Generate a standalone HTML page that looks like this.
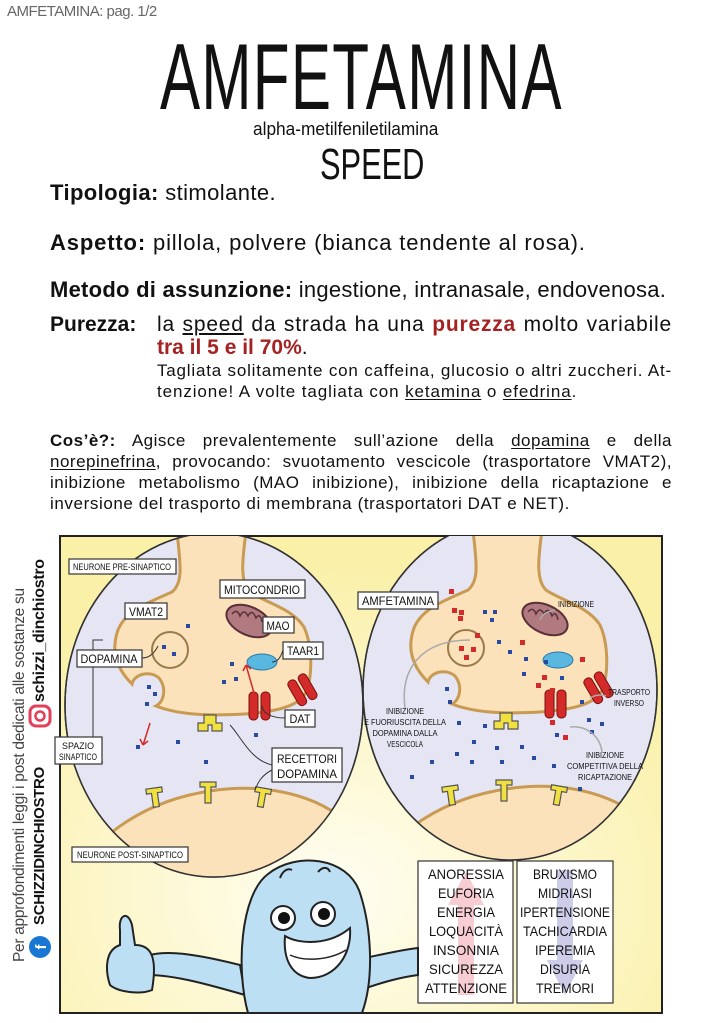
<!DOCTYPE html>
<html><head><meta charset="utf-8"><style>
html,body{margin:0;padding:0;background:#fff;}
body{width:721px;height:1023px;position:relative;overflow:hidden;font-family:"Liberation Sans",sans-serif;color:#111;}
.a{position:absolute;white-space:nowrap;}
.j{position:absolute;white-space:nowrap;text-align:justify;text-align-last:justify;}
.lbl{font-weight:bold;}
u{text-decoration:underline;text-underline-offset:2px;}
.red{color:#a52222;font-weight:bold;}
</style></head><body>
<div class="a" style="left:7px;top:3px;font-size:15px;color:#666;letter-spacing:-0.5px;">AMFETAMINA: pag. 1/2</div>
<div class="a" style="left:160px;top:30px;font-size:94px;line-height:94px;"><span style="display:inline-block;transform:scaleX(0.64);transform-origin:0 0;letter-spacing:2px;">AMFETAMINA</span></div>
<div class="a" style="left:253px;top:119px;font-size:18px;"><span style="display:inline-block;transform:scaleX(0.96);transform-origin:0 0;">alpha-metilfeniletilamina</span></div>
<div class="a" style="left:320px;top:140px;font-size:44px;"><span style="display:inline-block;transform:scaleX(0.7);transform-origin:0 0;">SPEED</span></div>

<div class="a" style="left:50px;top:180px;font-size:22px;letter-spacing:0.4px;"><span class="lbl">Tipologia:</span> stimolante.</div>
<div class="a" style="left:50px;top:230px;font-size:22px;letter-spacing:0.85px;"><span class="lbl">Aspetto:</span> pillola, polvere (bianca tendente al rosa).</div>
<div class="a" style="left:50px;top:277px;font-size:22px;letter-spacing:0.25px;"><span class="lbl">Metodo di assunzione:</span> ingestione, intranasale, endovenosa.</div>
<div class="a" style="left:50px;top:313px;font-size:21px;"><span class="lbl">Purezza:</span></div>
<div class="j" style="left:157px;top:313px;width:515px;font-size:21px;letter-spacing:0.8px;">la <u>speed</u> da strada ha una <span class="red">purezza</span> molto variabile</div>
<div class="a" style="left:157px;top:336px;font-size:21px;"><span class="red">tra il 5 e il 70%</span>.</div>
<div class="j" style="left:157px;top:361px;width:515px;font-size:17px;letter-spacing:0.8px;">Tagliata solitamente con caffeina, glucosio o altri zuccheri. At-</div>
<div class="a" style="left:157px;top:382px;font-size:17px;letter-spacing:0.9px;">tenzione! A volte tagliata con <u>ketamina</u> o <u>efedrina</u>.</div>

<div class="j" style="left:50px;top:431px;width:622px;font-size:17px;letter-spacing:0.5px;"><b>Cos’è?:</b> Agisce prevalentemente sull’azione della <u>dopamina</u> e della</div>
<div class="j" style="left:50px;top:452px;width:622px;font-size:17px;letter-spacing:0.5px;"><u>norepinefrina</u>, provocando: svuotamento vescicole (trasportatore VMAT2),</div>
<div class="j" style="left:50px;top:473px;width:622px;font-size:17px;letter-spacing:0.5px;">inibizione metabolismo (MAO inibizione), inibizione della ricaptazione e</div>
<div class="a" style="left:50px;top:494px;font-size:17px;letter-spacing:0.6px;">inversione del trasporto di membrana (trasportatori DAT e NET).</div>

<!-- side vertical text -->
<div class="a" style="left:11px;top:962px;transform:rotate(-90deg);transform-origin:0 0;font-size:15.5px;color:#444;letter-spacing:-0.3px;">Per approfondimenti leggi i post dedicati alle sostanze su</div>
<div class="a" style="left:31px;top:925px;transform:rotate(-90deg);transform-origin:0 0;font-size:15px;font-weight:bold;letter-spacing:-0.3px;">SCHIZZIDINCHIOSTRO</div>
<div class="a" style="left:31px;top:702px;transform:rotate(-90deg);transform-origin:0 0;font-size:16px;font-weight:bold;letter-spacing:-0.3px;">schizzi_dinchiostro</div>

<svg class="a" style="left:0;top:0" width="721" height="1023" viewBox="0 0 721 1023" font-family="Liberation Sans, sans-serif">
<defs>
<radialGradient id="bg" cx="0.45" cy="0.75" r="0.7"><stop offset="0" stop-color="#fffef2"/><stop offset="1" stop-color="#faf0a8"/></radialGradient>
<clipPath id="pc"><rect x="60" y="536" width="602" height="477"/></clipPath>
<clipPath id="cl"><ellipse cx="214" cy="705" rx="149" ry="172"/></clipPath>
<clipPath id="cr"><ellipse cx="510" cy="690" rx="147" ry="170"/></clipPath>
<g id="bulb">
<path d="M473,530 C476,560 480,580 468,590 C446,600 422,608 414,628 C406,650 414,668 428,682 C430,672 446,668 455,676 C463,686 460,700 452,704 C475,713 505,714 540,712 C572,710 596,704 602,690 C610,670 607,640 600,625 C588,606 560,600 546,590 C536,580 538,560 542,530 Z" fill="#fbe2bb" stroke="#c99a52" stroke-width="3"/>
<path d="M370,880 C410,780 600,750 660,840 L660,900 L370,900 Z" fill="#fbe2bb" stroke="#c99a52" stroke-width="3"/>
<circle cx="466" cy="648" r="18" fill="#fbe2bb" stroke="#9a7a4a" stroke-width="2"/>
<ellipse cx="545" cy="619" rx="24" ry="14" transform="rotate(25 545 619)" fill="#b07a80" stroke="#5a3038" stroke-width="2"/>
<path d="M528,612 q5,-6 8,2 q4,-8 8,0 q4,-8 8,2 q4,-6 6,4" fill="none" stroke="#5a3038" stroke-width="1.5"/>
<ellipse cx="558" cy="660" rx="15" ry="8" fill="#5ab8e0" stroke="#2a78a8" stroke-width="1"/>
<g fill="#f0e040" stroke="#555" stroke-width="1.2">
<path d="M500,713 h12 v8 h6 v8 h-10 v-6 h-4 v6 h-10 v-8 h6 z"/>
<path d="M443,786 h16 v5 h-5 v14 h-6 v-14 h-5 z" transform="rotate(-8 451 795)"/>
<path d="M496,780 h16 v5 h-5 v16 h-6 v-16 h-5 z"/>
<path d="M550,786 h16 v5 h-5 v14 h-6 v-14 h-5 z" transform="rotate(10 558 795)"/>
</g>
<g fill="#d42a2a" stroke="#7a1010" stroke-width="1">
<rect x="545" y="690" width="9" height="28" rx="4"/><rect x="557" y="690" width="9" height="28" rx="4"/>
<rect x="588" y="674" width="9" height="28" rx="4" transform="rotate(-30 598 688)"/><rect x="600" y="674" width="9" height="28" rx="4" transform="rotate(-30 598 688)"/>
</g>
</g>
</defs>
<rect x="60" y="536" width="602" height="477" fill="url(#bg)" stroke="#222" stroke-width="2"/>
<g clip-path="url(#pc)">
<ellipse cx="214" cy="705" rx="149" ry="172" fill="#e5e5f3" stroke="#333" stroke-width="1.5"/>
<ellipse cx="510" cy="690" rx="147" ry="170" fill="#e5e5f3" stroke="#333" stroke-width="1.5"/>
<g clip-path="url(#cr)"><use href="#bulb"/></g>
<g clip-path="url(#cl)"><use href="#bulb" transform="translate(-296,2)"/></g>
<ellipse cx="214" cy="705" rx="149" ry="172" fill="none" stroke="#333" stroke-width="1.5"/>
<ellipse cx="510" cy="690" rx="147" ry="170" fill="none" stroke="#333" stroke-width="1.5"/>
</g>
<!-- dots -->
<g fill="#2a4aa0">
<rect x="186" y="624" width="4" height="4"/><rect x="162" y="645" width="4" height="4"/><rect x="172" y="652" width="4" height="4"/><rect x="230" y="662" width="4" height="4"/><rect x="222" y="680" width="4" height="4"/><rect x="234" y="677" width="4" height="4"/><rect x="147" y="685" width="4" height="4"/><rect x="153" y="692" width="4" height="4"/><rect x="145" y="702" width="4" height="4"/><rect x="254" y="733" width="4" height="4"/><rect x="176" y="740" width="4" height="4"/><rect x="136" y="745" width="4" height="4"/><rect x="204" y="760" width="4" height="4"/>
<rect x="483" y="610" width="4" height="4"/><rect x="493" y="610" width="4" height="4"/><rect x="490" y="618" width="4" height="4"/><rect x="497" y="640" width="4" height="4"/><rect x="508" y="650" width="4" height="4"/><rect x="524" y="657" width="4" height="4"/><rect x="544" y="660" width="4" height="4"/><rect x="522" y="672" width="4" height="4"/><rect x="560" y="676" width="4" height="4"/><rect x="445" y="687" width="4" height="4"/><rect x="448" y="700" width="4" height="4"/><rect x="457" y="721" width="4" height="4"/><rect x="483" y="724" width="4" height="4"/><rect x="472" y="740" width="4" height="4"/><rect x="495" y="746" width="4" height="4"/><rect x="520" y="745" width="4" height="4"/><rect x="455" y="752" width="4" height="4"/><rect x="430" y="760" width="4" height="4"/><rect x="470" y="760" width="4" height="4"/><rect x="500" y="760" width="4" height="4"/><rect x="532" y="756" width="4" height="4"/><rect x="552" y="764" width="4" height="4"/><rect x="555" y="733" width="4" height="4"/><rect x="587" y="718" width="4" height="4"/><rect x="600" y="722" width="4" height="4"/><rect x="590" y="730" width="4" height="4"/><rect x="580" y="700" width="4" height="4"/><rect x="410" y="775" width="4" height="4"/><rect x="578" y="787" width="4" height="4"/>
</g>
<g fill="#d42a2a">
<rect x="449" y="589" width="5" height="5"/><rect x="452" y="608" width="5" height="5"/><rect x="459" y="610" width="5" height="5"/><rect x="458" y="616" width="5" height="5"/><rect x="475" y="633" width="5" height="5"/><rect x="459" y="646" width="5" height="5"/><rect x="471" y="647" width="5" height="5"/><rect x="464" y="655" width="5" height="5"/><rect x="520" y="640" width="5" height="5"/><rect x="580" y="657" width="5" height="5"/><rect x="542" y="675" width="5" height="5"/><rect x="536" y="683" width="5" height="5"/><rect x="550" y="688" width="5" height="5"/><rect x="550" y="720" width="5" height="5"/><rect x="563" y="735" width="5" height="5"/>
</g>
<path d="M150,723 q-3,10 -7,22 M143,745 l-3,-6 M143,745 l5,-4" stroke="#d42a2a" stroke-width="1.5" fill="none"/>
<path d="M256,700 l-10,-35 M246,665 l-3,6 M246,665 l5,4" stroke="#d42a2a" stroke-width="1.5" fill="none"/>
<!-- connectors -->
<g fill="none" stroke="#333" stroke-width="1">
<path d="M142,658 C150,658 155,652 158,646"/><path d="M272,765 C250,760 240,735 230,725"/><path d="M272,770 C262,775 258,782 255,790"/><path d="M285,718 C270,718 262,712 262,706"/><path d="M283,650 C280,660 276,662 272,662"/>
<path d="M103,640 h-10 v122 h10"/>
</g>
<g fill="none" stroke="#aaa" stroke-width="1.5">
<path d="M405,708 C400,670 420,640 470,640"/><path d="M602,752 C600,735 585,725 570,727"/><path d="M555,610 C545,612 542,615 540,620"/><path d="M606,696 C600,694 595,695 590,698"/>
</g>
<!-- label boxes -->
<g fill="#fff" stroke="#333" stroke-width="1.2">
<rect x="69" y="559" width="107" height="15"/><rect x="220" y="580" width="85" height="18"/><rect x="125" y="603" width="42" height="16"/><rect x="263" y="617" width="31" height="16"/><rect x="283" y="642" width="40" height="17"/><rect x="77" y="650" width="65" height="17"/><rect x="285" y="710" width="30" height="17"/><rect x="55" y="737" width="47" height="27"/><rect x="272" y="748" width="70" height="34"/><rect x="72" y="847" width="116" height="15"/><rect x="358" y="592" width="80" height="17"/>
<rect x="418" y="861" width="95" height="142"/><rect x="517" y="861" width="96" height="142"/>
</g>
<g font-size="9" fill="#111" text-anchor="middle">
<text x="122" y="570" textLength="98" lengthAdjust="spacingAndGlyphs">NEURONE PRE-SINAPTICO</text>
<text x="130" y="858" textLength="106" lengthAdjust="spacingAndGlyphs">NEURONE POST-SINAPTICO</text>
<text x="78" y="749" textLength="32" lengthAdjust="spacingAndGlyphs">SPAZIO</text>
<text x="78" y="760" textLength="38" lengthAdjust="spacingAndGlyphs">SINAPTICO</text>
<text x="576" y="607" font-size="8" textLength="36" lengthAdjust="spacingAndGlyphs">INIBIZIONE</text>
<text x="629" y="695" font-size="8" textLength="42" lengthAdjust="spacingAndGlyphs">TRASPORTO</text>
<text x="629" y="706" font-size="8" textLength="30" lengthAdjust="spacingAndGlyphs">INVERSO</text>
<g font-size="8"><text x="405" y="714" textLength="38" lengthAdjust="spacingAndGlyphs">INIBIZIONE</text>
<text x="405" y="725" textLength="82" lengthAdjust="spacingAndGlyphs">E FUORIUSCITA DELLA</text>
<text x="405" y="736" textLength="65" lengthAdjust="spacingAndGlyphs">DOPAMINA DALLA</text>
<text x="405" y="747" textLength="36" lengthAdjust="spacingAndGlyphs">VESCICOLA</text>
<text x="605" y="758" textLength="38" lengthAdjust="spacingAndGlyphs">INIBIZIONE</text>
<text x="605" y="769" textLength="76" lengthAdjust="spacingAndGlyphs">COMPETITIVA DELLA</text>
<text x="605" y="780" textLength="54" lengthAdjust="spacingAndGlyphs">RICAPTAZIONE</text></g>
<g font-size="12">
<text x="262" y="594" textLength="76" lengthAdjust="spacingAndGlyphs">MITOCONDRIO</text>
<text x="146" y="616" textLength="34" lengthAdjust="spacingAndGlyphs">VMAT2</text>
<text x="278" y="630" textLength="23" lengthAdjust="spacingAndGlyphs">MAO</text>
<text x="303" y="655" textLength="32" lengthAdjust="spacingAndGlyphs">TAAR1</text>
<text x="109" y="663" textLength="57" lengthAdjust="spacingAndGlyphs">DOPAMINA</text>
<text x="300" y="723" textLength="21" lengthAdjust="spacingAndGlyphs">DAT</text>
<text x="307" y="763" textLength="60" lengthAdjust="spacingAndGlyphs">RECETTORI</text>
<text x="307" y="778" textLength="60" lengthAdjust="spacingAndGlyphs">DOPAMINA</text>
<text x="398" y="605" textLength="72" lengthAdjust="spacingAndGlyphs">AMFETAMINA</text>
</g>
</g>
<!-- character -->
<g stroke="#222" stroke-width="2" fill="#bcdff3">
<path d="M240,965 C200,955 170,950 150,955 L148,975 C175,975 210,985 245,995 Z"/>
<path d="M120,930 C118,915 128,910 132,925 L135,945 C150,945 158,955 152,990 C140,995 118,992 110,985 C105,970 105,950 120,945 Z"/>
<path d="M355,960 C380,955 400,950 418,948 L418,975 C395,978 375,985 360,990 Z"/>
<path d="M248,1013 C236,970 240,895 268,874 C295,852 348,856 360,893 C372,930 374,980 362,1013 Z"/>
</g>
<path d="M280,878 c3,-8 8,-10 12,-8 M318,872 c5,-6 10,-5 12,0" fill="none" stroke="#222" stroke-width="2"/>
<path d="M285,936 C300,945 330,945 350,928 C352,955 335,978 310,978 C292,976 283,960 285,936 Z" fill="#fff" stroke="#222" stroke-width="2"/>
<path d="M290,955 C305,962 330,960 346,950" fill="none" stroke="#222" stroke-width="1.5"/>
<circle cx="283" cy="918" r="12" fill="#fff" stroke="#222" stroke-width="2"/><circle cx="284" cy="918" r="6" fill="#111"/>
<circle cx="323" cy="914" r="12" fill="#fff" stroke="#222" stroke-width="2"/><circle cx="324" cy="914" r="6" fill="#111"/>
<!-- effect arrows -->
<path d="M458,995 L458,905 L448,905 L466,872 L484,905 L474,905 L474,995 Z" fill="#f4b8c0" opacity="0.7"/>
<path d="M557,870 L557,960 L547,960 L565,995 L583,960 L573,960 L573,870 Z" fill="#b8b8e0" opacity="0.7"/>
<g font-size="14" fill="#111" text-anchor="middle">
<text x="466" y="879" textLength="76" lengthAdjust="spacingAndGlyphs">ANORESSIA</text>
<text x="466" y="898" textLength="56" lengthAdjust="spacingAndGlyphs">EUFORIA</text>
<text x="466" y="917" textLength="58" lengthAdjust="spacingAndGlyphs">ENERGIA</text>
<text x="466" y="936" textLength="74" lengthAdjust="spacingAndGlyphs">LOQUACITÀ</text>
<text x="466" y="955" textLength="66" lengthAdjust="spacingAndGlyphs">INSONNIA</text>
<text x="466" y="974" textLength="74" lengthAdjust="spacingAndGlyphs">SICUREZZA</text>
<text x="466" y="993" textLength="82" lengthAdjust="spacingAndGlyphs">ATTENZIONE</text>
<text x="565" y="879" textLength="64" lengthAdjust="spacingAndGlyphs">BRUXISMO</text>
<text x="565" y="898" textLength="54" lengthAdjust="spacingAndGlyphs">MIDRIASI</text>
<text x="565" y="917" textLength="90" lengthAdjust="spacingAndGlyphs">IPERTENSIONE</text>
<text x="565" y="936" textLength="84" lengthAdjust="spacingAndGlyphs">TACHICARDIA</text>
<text x="565" y="955" textLength="60" lengthAdjust="spacingAndGlyphs">IPEREMIA</text>
<text x="565" y="974" textLength="50" lengthAdjust="spacingAndGlyphs">DISURIA</text>
<text x="565" y="993" textLength="58" lengthAdjust="spacingAndGlyphs">TREMORI</text>
</g>
<!-- social icons -->
<rect x="30" y="706" width="20" height="20" rx="6" fill="none" stroke="#e0405a" stroke-width="3"/>
<circle cx="40" cy="716" r="4.5" fill="none" stroke="#e0405a" stroke-width="2.5"/>
<circle cx="40" cy="947" r="11" fill="#1877d2"/>
<text x="40" y="953" font-size="15" font-weight="bold" fill="#fff" text-anchor="middle" transform="rotate(-90 40 947)">f</text>
</svg>
</body></html>
